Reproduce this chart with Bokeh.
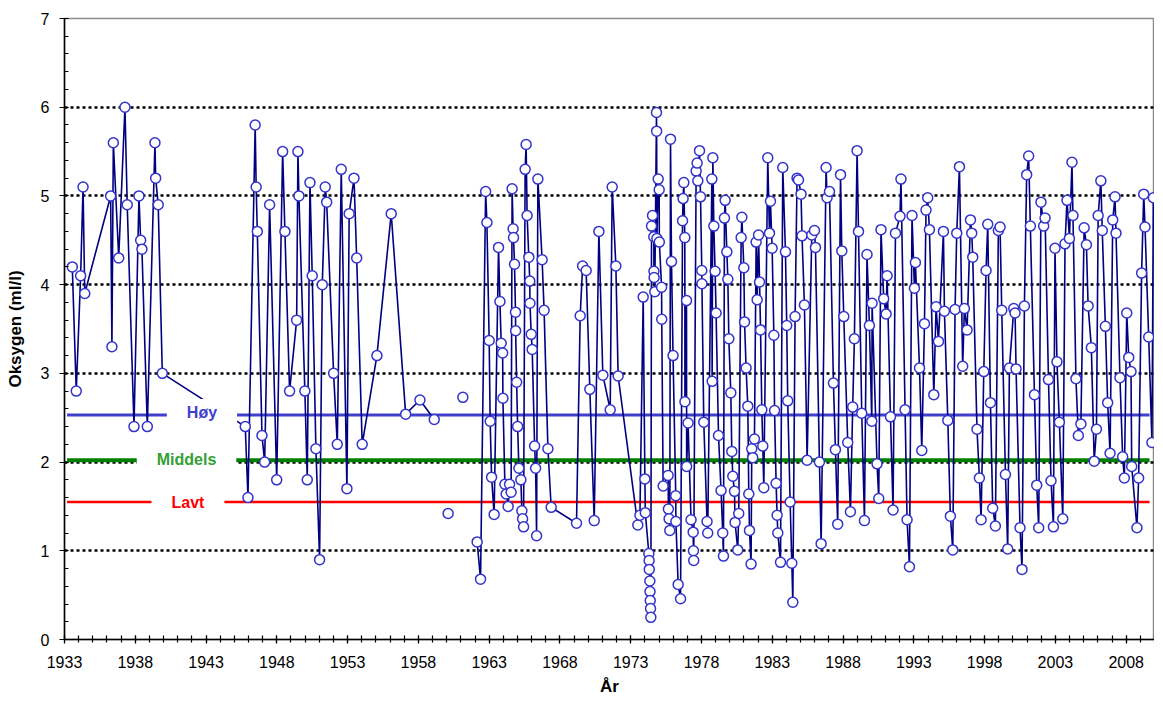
import math
from bokeh.plotting import figure
from bokeh.models import FixedTicker, Label, ColumnDataSource
from bokeh.embed import file_html
from bokeh.resources import INLINE

nan = float("nan")

# ---- data ----
years_1933 = [1933.55, 1933.83, 1934.14, 1934.31, 1934.43, 1936.26, 1936.35, 1936.45, 1936.83, 1937.27,
              1937.43, 1937.91, 1938.26, 1938.38, 1938.47, 1938.85, 1939.39, 1939.44, 1939.62, 1939.91,
              1945.77, 1945.96, 1946.47, 1946.54, 1946.62, 1946.95, 1947.14, 1947.49, 1947.99, 1948.41,
              1948.57, 1948.90, 1949.40, 1949.49, 1949.56, 1949.98, 1950.15, 1950.34, 1950.50, 1950.76,
              1951.02, 1951.21, 1951.42, 1951.52, 1952.01, 1952.27, 1952.55, 1952.95, 1953.11, 1953.45,
              1953.64, 1954.03, 1955.07, 1956.08, 1957.10, 1958.11, 1959.12]
oxy_1933 = [4.2, 2.8, 4.1, 5.1, 3.9, 5.0, 3.3, 5.6, 4.3, 6.0,
            4.9, 2.4, 5.0, 4.5, 4.4, 2.4, 5.6, 5.2, 4.9, 3.0,
            2.4, 1.6, 5.8, 5.1, 4.6, 2.3, 2.0, 4.9, 1.8, 5.5,
            4.6, 2.8, 3.6, 5.5, 5.0, 2.8, 1.8, 5.15, 4.1, 2.15,
            0.9, 4.0, 5.1, 4.93, 3.0, 2.2, 5.3, 1.7, 4.8, 5.2,
            4.3, 2.2, 3.2, 4.8, 2.54, 2.7, 2.48]

years_1960 = [1960.10]
oxy_1960 = [1.42]
years_1961 = [1961.14]
oxy_1961 = [2.73]

years_1962 = [1962.15, 1962.39, 1962.75, 1962.84, 1963.00, 1963.07, 1963.17, 1963.35, 1963.66, 1963.76,
              1963.85, 1963.95, 1963.97, 1964.11, 1964.20, 1964.34, 1964.44, 1964.55, 1964.62, 1964.69,
              1964.72, 1964.79, 1964.86, 1964.87, 1964.94, 1965.01, 1965.10, 1965.24, 1965.31, 1965.36,
              1965.43, 1965.54, 1965.61, 1965.68, 1965.80, 1965.87, 1965.88, 1965.97, 1966.04, 1966.21,
              1966.28, 1966.35, 1966.44, 1966.74, 1966.88, 1967.15, 1967.38, 1969.17, 1969.43, 1969.60,
              1969.85, 1970.11, 1970.42, 1970.75, 1971.03, 1971.55, 1971.69, 1971.95, 1972.11]
oxy_1962 = [1.10, 0.68, 5.05, 4.70, 3.37, 2.46, 1.83, 1.41, 4.42, 3.81,
            3.34, 3.23, 2.72, 1.75, 1.64, 1.50, 1.75, 1.66, 5.08, 4.63,
            4.53, 4.23, 3.69, 3.48, 2.90, 2.40, 1.93, 1.80, 1.45, 1.36,
            1.27, 5.30, 5.58, 4.78, 4.31, 4.04, 3.79, 3.44, 3.27, 2.18,
            1.93, 1.17, 5.19, 4.28, 3.71, 2.15, 1.49, 1.31, 3.65, 4.21,
            4.16, 2.82, 1.34, 4.60, 2.98, 2.59, 5.10, 4.21, 2.97]

years_1973 = [1973.50, 1973.65, 1973.88, 1974.00, 1974.03, 1974.28, 1974.30, 1974.31, 1974.35, 1974.36,
              1974.38, 1974.40, 1974.42, 1974.47, 1974.54, 1974.63, 1974.64, 1974.65, 1974.70, 1974.82,
              1974.83, 1974.85, 1974.94, 1975.01, 1975.02, 1975.18, 1975.19, 1975.29, 1975.64, 1975.66,
              1975.71, 1975.76, 1975.81, 1975.88, 1975.99, 1976.18, 1976.19, 1976.35, 1976.52, 1976.66,
              1976.70, 1976.75, 1976.82, 1976.83, 1976.94, 1976.95, 1977.05, 1977.26, 1977.41, 1977.43,
              1977.45, 1977.62, 1977.69, 1977.74, 1977.86, 1977.93, 1978.02, 1978.03, 1978.16, 1978.39,
              1978.44, 1978.73, 1978.75, 1978.80, 1978.87, 1978.96, 1979.03, 1979.20, 1979.38, 1979.50,
              1979.55, 1979.62, 1979.67, 1979.79, 1979.86, 1979.93, 1980.07, 1980.14, 1980.21, 1980.33,
              1980.37, 1980.56, 1980.63, 1980.80, 1980.85, 1980.99, 1981.04, 1981.15, 1981.27, 1981.34,
              1981.39, 1981.50, 1981.55, 1981.62, 1981.74, 1981.86, 1981.93, 1982.03, 1982.10, 1982.17,
              1982.26, 1982.33, 1982.40, 1982.68, 1982.80, 1982.87, 1982.99, 1983.11, 1983.16, 1983.27,
              1983.34, 1983.39, 1983.58, 1983.74, 1983.93, 1984.02, 1984.09, 1984.26, 1984.38, 1984.45,
              1984.61, 1984.75, 1984.85, 1985.03, 1985.10, 1985.27, 1985.46, 1985.79, 1985.98, 1986.05,
              1986.33, 1986.45, 1986.80, 1986.87, 1987.04, 1987.32, 1987.46, 1987.62, 1987.82, 1987.91]
oxy_1973 = [1.29, 1.40, 3.86, 1.81, 1.43, 0.97, 0.89, 0.79, 0.66, 0.54,
            0.44, 0.35, 0.25, 4.66, 4.78, 4.54, 4.15, 4.08, 3.92, 5.94,
            5.73, 4.52, 5.19, 5.07, 4.48, 3.97, 3.61, 1.73, 1.85, 1.47,
            1.36, 1.23, 5.64, 4.26, 3.20, 1.62, 1.33, 0.62, 0.46, 4.72,
            4.97, 5.15, 4.53, 2.68, 3.82, 1.95, 2.44, 1.35, 1.21, 1.00,
            0.89, 5.28, 5.37, 5.17, 5.51, 4.99, 4.16, 4.01, 2.45, 1.33,
            1.20, 5.19, 2.91, 5.43, 4.66, 4.15, 3.68, 2.30, 1.68, 1.20,
            0.94, 4.75, 4.95, 4.37, 4.06, 3.39, 2.78, 2.12, 1.84, 1.67,
            1.32, 1.01, 1.42, 4.53, 4.76, 4.19, 3.58, 3.06, 2.63, 1.64,
            1.23, 0.85, 2.15, 2.05, 2.26, 4.48, 3.83, 4.56, 4.03, 3.49,
            2.59, 2.18, 1.71, 5.43, 4.58, 4.94, 4.41, 3.43, 2.58, 1.76,
            1.40, 1.20, 0.87, 5.32, 4.37, 3.54, 2.69, 1.55, 0.86, 0.42,
            3.64, 5.20, 5.18, 5.02, 4.55, 3.77, 2.02, 4.56, 4.61, 4.42,
            2.00, 1.08, 5.32, 4.98, 5.05, 2.89, 2.14, 1.30, 5.24, 4.38]

years_1988 = [1988.05, 1988.33, 1988.52, 1988.68, 1988.80, 1988.99, 1989.09, 1989.32, 1989.51, 1989.69,
              1989.86, 1990.03, 1990.05, 1990.40, 1990.52, 1990.68, 1990.87, 1991.04, 1991.11, 1991.35,
              1991.53, 1991.70, 1992.02, 1992.09, 1992.38, 1992.52, 1992.69, 1992.87, 1993.04, 1993.11,
              1993.40, 1993.56, 1993.75, 1993.86, 1993.98, 1994.10, 1994.41, 1994.57, 1994.74, 1995.09,
              1995.16, 1995.40, 1995.58, 1995.75, 1995.91, 1996.03, 1996.22, 1996.45, 1996.57, 1996.76,
              1997.00, 1997.09, 1997.16, 1997.46, 1997.63, 1997.75, 1997.94, 1998.10, 1998.22, 1998.41,
              1998.57, 1998.76, 1998.97, 1999.09, 1999.21, 1999.47, 1999.63, 1999.75, 2000.06, 2000.15,
              2000.22, 2000.50, 2000.64, 2000.81, 2000.97, 2001.11, 2001.23, 2001.52, 2001.68, 2001.82,
              2001.98, 2002.17, 2002.27, 2002.51, 2002.69, 2002.86, 2002.97, 2003.11, 2003.28, 2003.52,
              2003.68, 2003.82, 2003.99, 2004.17, 2004.24, 2004.45, 2004.62, 2004.80, 2005.03, 2005.19,
              2005.31, 2005.54, 2005.74, 2005.90, 2006.02, 2006.21, 2006.31, 2006.53, 2006.69, 2006.86,
              2007.05, 2007.21, 2007.28, 2007.56, 2007.75, 2007.87, 2008.04, 2008.18, 2008.34, 2008.39,
              2008.76, 2008.88, 2009.09, 2009.24, 2009.33, 2009.59, 2009.82, 2009.92]
oxy_1988 = [3.64, 2.22, 1.44, 2.62, 3.39, 5.51, 4.60, 2.55, 1.34, 4.34,
            3.54, 2.46, 3.79, 1.98, 1.59, 4.62, 3.84, 3.67, 4.10, 2.51,
            1.46, 4.58, 4.77, 5.19, 2.59, 1.35, 0.82, 4.78, 3.96, 4.25,
            3.06, 2.13, 3.56, 4.84, 4.98, 4.62, 2.76, 3.75, 3.36, 4.60,
            3.70, 2.47, 1.39, 1.01, 3.72, 4.58, 5.33, 3.08, 3.73, 3.49,
            4.73, 4.58, 4.31, 2.37, 1.82, 1.35, 3.02, 4.16, 4.68, 2.67,
            1.48, 1.28, 4.61, 4.65, 3.71, 1.86, 1.02, 3.06, 3.73, 3.68,
            3.05, 1.26, 0.79, 3.76, 5.24, 5.45, 4.66, 2.76, 1.74, 1.26,
            4.93, 4.66, 4.75, 2.93, 1.79, 1.27, 4.41, 3.13, 2.45, 1.36,
            4.46, 4.95, 4.52, 5.38, 4.78, 2.94, 2.30, 2.43, 4.64, 4.45,
            3.76, 3.29, 2.01, 2.37, 4.78, 5.17, 4.61, 3.53, 2.67, 2.10,
            4.73, 4.99, 4.58, 2.95, 2.06, 1.82, 3.68, 3.18, 3.02, 1.95,
            1.26, 1.82, 4.13, 5.02, 4.65, 3.41, 2.22, 4.98]

level_names = ["Høy", "Middels", "Lavt"]
level_values = [2.53, 2.02, 1.55]
level_span = [1933.18, 2009.65]
label_x = [1942.71, 1941.62, 1941.72]
label_y = [2.56, 2.03, 1.545]

major_years = list(range(1933, 2009, 5))
minor_years = list(range(1933, 2011))
y_ticks = list(range(0, 8))
y_minor = [i / 5 for i in range(0, 36)]

# ---- assemble line with gaps ----
segments = [(years_1933, oxy_1933), (years_1960, oxy_1960), (years_1961, oxy_1961),
            (years_1962 + years_1973 + years_1988, oxy_1962 + oxy_1973 + oxy_1988)]
xs, ys = [], []
for sx, sy in segments:
    assert len(sx) == len(sy)
    xs += sx + [nan]
    ys += sy + [nan]

src = ColumnDataSource(data=dict(x=xs, y=ys))

FONT = "Liberation Sans"

p = figure(width=1154, height=700, x_range=(1933, 2010), y_range=(0, 7),
           output_backend="svg", toolbar_location=None,
           min_border_left=64, min_border_right=0, min_border_top=18, min_border_bottom=61)
p.background_fill_color = "white"
p.border_fill_color = "white"
p.outline_line_color = "#8c8c8c"
p.outline_line_width = 1.5

# gridlines
p.xgrid.visible = False
p.ygrid.ticker = FixedTicker(ticks=[1, 2, 3, 4, 5, 6])
p.ygrid.grid_line_color = "black"
p.ygrid.grid_line_width = 2.5
p.ygrid.grid_line_dash = "3 3"

# axes
p.xaxis.ticker = FixedTicker(ticks=major_years, minor_ticks=minor_years)
p.yaxis.ticker = FixedTicker(ticks=y_ticks, minor_ticks=y_minor)
for ax in (p.xaxis[0], p.yaxis[0]):
    ax.axis_line_color = "black"
    ax.axis_line_width = 1.5
    ax.major_tick_line_color = "black"
    ax.minor_tick_line_color = "black"
    ax.major_tick_line_width = 1.2
    ax.minor_tick_line_width = 1.2
    ax.major_label_text_font = FONT
    ax.major_label_text_font_size = "16px"
    ax.major_label_text_color = "black"
    ax.axis_label_text_font = FONT
    ax.axis_label_text_font_size = "17px"
    ax.axis_label_text_font_style = "bold"
    ax.axis_label_text_color = "black"

p.xaxis.axis_label = "År"
p.xaxis.major_tick_in = 4
p.xaxis.major_tick_out = 4
p.xaxis.minor_tick_in = 4
p.xaxis.minor_tick_out = 3
p.xaxis.major_label_standoff = 12
p.xaxis.axis_label_standoff = 6

p.yaxis.axis_label = "Oksygen (ml/l)"
p.yaxis.major_tick_in = 4
p.yaxis.major_tick_out = 5
p.yaxis.minor_tick_in = 4
p.yaxis.minor_tick_out = 0
p.yaxis.major_label_standoff = 10
p.yaxis.axis_label_standoff = 13

# threshold lines
level_colors = ["#4040CC", "#008000", "#FF0000"]
level_widths = [3, 4, 2.5]
for val, col, w in zip(level_values, level_colors, level_widths):
    p.line(x=level_span, y=[val, val], line_color=col, line_width=w)

# data line + markers
p.line(x="x", y="y", source=src, line_color="#000080", line_width=1.6)
p.scatter(x="x", y="y", source=src, marker="circle", size=10,
          fill_color="white", line_color="#3333CC", line_width=1.5)

# labels with white boxes
label_colors = ["#4040CC", "#33A033", "#FF0000"]
for name, lx, ly, col in zip(level_names, label_x, label_y, label_colors):
    p.add_layout(Label(x=lx, y=ly, text=name, text_align="center", text_baseline="middle",
                       text_font=FONT, text_font_style="bold", text_font_size="16px",
                       text_color=col, background_fill_color="white",
                       padding=dict(left=20, right=20, top=5, bottom=5)))

open("out.html", "w").write(file_html(p, INLINE))
